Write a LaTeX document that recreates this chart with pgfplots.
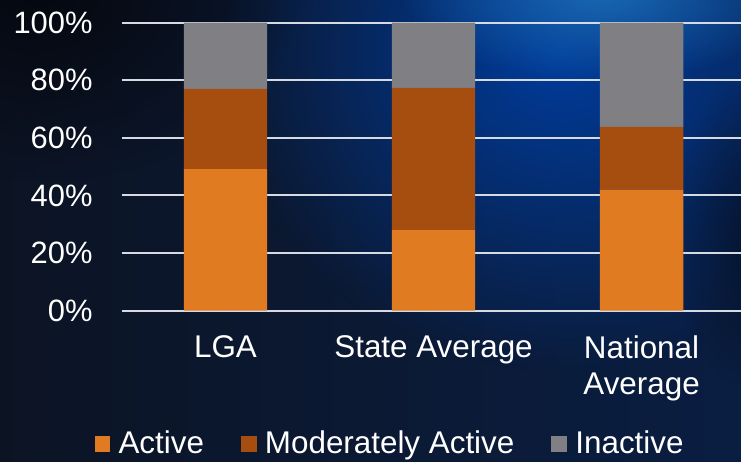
\documentclass[border=0pt]{standalone}
\usepackage{pgfplots}
\pgfplotsset{compat=1.18}
\usepackage{fontspec}
\setmainfont{Liberation Sans}
\usetikzlibrary{fadings}

\definecolor{active}{RGB}{224,123,34}
\definecolor{moderate}{RGB}{166,77,16}
\definecolor{inactive}{RGB}{128,128,132}
\definecolor{gridc}{RGB}{214,218,226}
\definecolor{bgleft}{RGB}{12,20,36}
\definecolor{bgmid}{RGB}{11,36,78}
\definecolor{bgright}{RGB}{10,30,66}
\definecolor{glowblue}{RGB}{0,60,156}
\definecolor{glowlight}{RGB}{26,104,178}
\definecolor{corner}{RGB}{5,8,16}

\tikzfading[name=glow, inner color=transparent!0, outer color=transparent!100]

\begin{document}
\begin{tikzpicture}
\useasboundingbox (0,0) rectangle (741bp,462bp);
% backdrop
\begin{scope}
  \clip (0,0) rectangle (741bp,462bp);
  \shade[left color=bgleft, middle color=bgmid, right color=bgright]
    (0,0) rectangle (741bp,462bp);
  \fill[glowblue, path fading=glow] (560bp,410bp) ellipse [x radius=340bp, y radius=320bp];
  \fill[glowlight, path fading=glow] (600bp,470bp) ellipse [x radius=200bp, y radius=90bp];
  \fill[corner, path fading=glow] (40bp,470bp) ellipse [x radius=260bp, y radius=190bp];
  \fill[corner, opacity=0.6, path fading=glow] (760bp,230bp) ellipse [x radius=90bp, y radius=160bp];
\end{scope}

\begin{axis}[
  at={(121.7bp,151.3bp)}, anchor=south west,
  scale only axis, width=619.3bp, height=288bp,
  ybar stacked, bar width=83.4bp,
  xmin=-0.499, xmax=2.478,
  ymin=0, ymax=100,
  xtick={0,1,2},
  xticklabels={LGA, State Average, {National\\Average}},
  ytick={0,20,40,60,80,100},
  yticklabel={\pgfmathprintnumber{\tick}\%},
  /pgf/number format/assume math mode=true,
  major tick length=0pt,
  axis line style={draw=none},
  ymajorgrids, grid style={gridc, line width=2bp},
  tick label style={text=white, font=\fontsize{31}{36}\selectfont},
  yticklabel style={anchor=east, inner sep=0pt, xshift=-29bp},
  xticklabel style={anchor=north, inner sep=0pt, align=center, yshift=-25bp,
    font=\fontsize{31.5}{36}\selectfont},
  legend columns=3,
  legend style={at={(axis description cs:-0.0439,-0.4594)}, anchor=west,
    draw=none, fill=none, inner sep=0pt, outer sep=0pt, text=white,
    font=\fontsize{31.5}{36}\selectfont, nodes={inner sep=0pt},
    /tikz/every odd column/.append style={column sep=8.4bp},
    /tikz/every even column/.append style={column sep=37bp}},
  legend image code/.code={\fill[#1, draw=none] (0bp,-9bp) rectangle (15.6bp,7.3bp);},
]
\addplot[fill=active, draw=none] coordinates {(0,49.2) (1,28.0) (2,42.0)};
\addplot[fill=moderate, draw=none] coordinates {(0,27.8) (1,49.4) (2,21.8)};
\addplot[fill=inactive, draw=none] coordinates {(0,23.0) (1,22.6) (2,36.2)};
\legend{Active, Moderately Active, Inactive}
\end{axis}
\end{tikzpicture}
\end{document}
